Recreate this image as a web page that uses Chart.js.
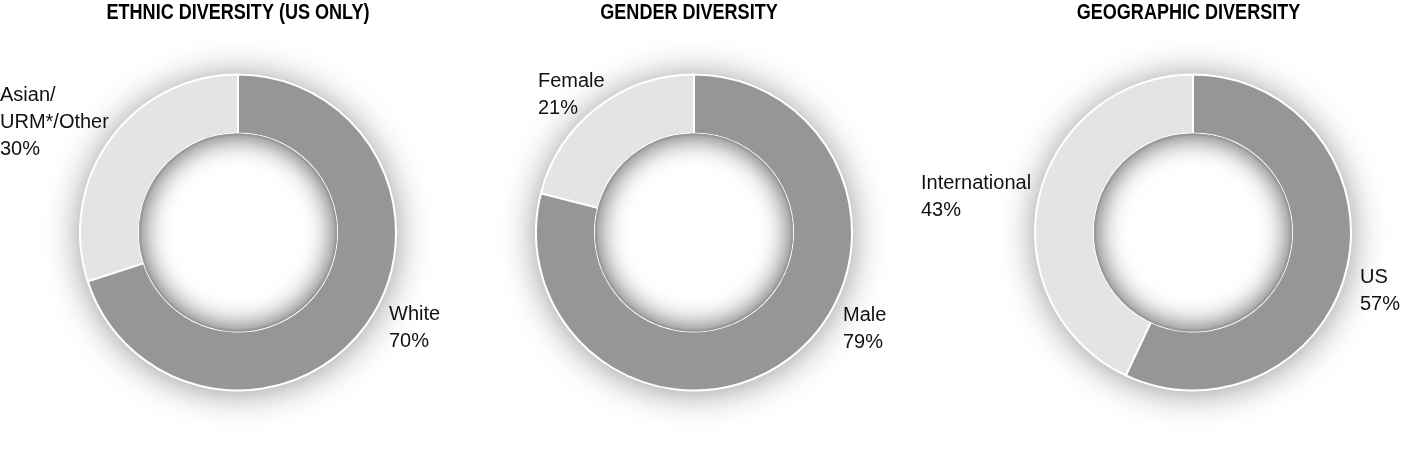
<!DOCTYPE html>
<html>
<head>
<meta charset="utf-8">
<script src="https://cdn.jsdelivr.net/npm/chart.js@4/dist/chart.umd.min.js"></script>
<style>
  html, body { margin: 0; padding: 0; background: #fff; overflow: hidden; }
  body { width: 1413px; height: 455px; position: relative; }
  canvas { position: absolute; top: 0; }
</style>
</head>
<body>
<canvas id="ethnic" width="560" height="455"></canvas>
<canvas id="gender" width="560" height="455"></canvas>
<canvas id="geo" width="560" height="455"></canvas>
<script>
const ethnicCategories = ['White', 'Asian/\nURM*/Other'];
const ethnicValues = [70, 30];
const genderCategories = ['Male', 'Female'];
const genderValues = [79, 21];
const geoCategories = ['US', 'International'];
const geoValues = [57, 43];
const chartTitles = ['ETHNIC DIVERSITY (US ONLY)', 'GENDER DIVERSITY', 'GEOGRAPHIC DIVERSITY'];

const COLORS = ['#969696', '#e4e4e4'];
const CANVAS_W = 560;

// where each doughnut sits on the page, and where its labels go (relative to the centre)
const layouts = [
    { id: 'ethnic', cx: 238, titleDx: 0, labelPos: [[151, 87.5], [-238, -131.5]] },
    { id: 'gender', cx: 694, titleDx: -5, labelPos: [[149, 88.5], [-156, -145.5]] },
    { id: 'geo', cx: 1193, titleDx: -4.5, labelPos: [[167, 50.5], [-272, -43.5]] }
];
const datasets = [
    [ethnicCategories, ethnicValues],
    [genderCategories, genderValues],
    [geoCategories, geoValues]
];

function hasFont(name) {
    const c = document.createElement('canvas').getContext('2d');
    const sample = 'GENDER DIVERSITY mmwwii';
    c.font = '20px monospace';
    const a = c.measureText(sample).width;
    c.font = `20px "${name}", monospace`;
    return c.measureText(sample).width !== a;
}
const NARROW = hasFont('Liberation Sans Narrow');

function drawText(ctx, text, x, y, font, align, squeeze) {
    ctx.save();
    ctx.font = font;
    ctx.textAlign = align;
    ctx.textBaseline = 'alphabetic';
    ctx.translate(x, y);
    ctx.scale(squeeze, 1);
    ctx.fillText(text, 0, 0);
    ctx.restore();
}

const ringShadow = {
    id: 'ringShadow',
    beforeDatasetsDraw(chart) {
        const arc = chart.getDatasetMeta(0).data[0];
        const ctx = chart.ctx;
        ctx.save();
        ctx.shadowColor = 'rgba(0,0,0,0.45)';
        ctx.shadowBlur = 36;
        ctx.shadowOffsetY = 2;
        ctx.fillStyle = '#ccc';
        ctx.beginPath();
        ctx.arc(arc.x, arc.y, arc.outerRadius - 1, 0, Math.PI * 2);
        ctx.fill();
        ctx.restore();
    },
    afterDatasetsDraw(chart) {
        const arc = chart.getDatasetMeta(0).data[0];
        const ctx = chart.ctx;
        const r = arc.innerRadius;
        ctx.save();
        ctx.beginPath();
        ctx.arc(arc.x, arc.y, r, 0, Math.PI * 2);
        ctx.clip();
        ctx.fillStyle = '#fff';
        ctx.fill();
        ctx.beginPath();
        ctx.arc(arc.x, arc.y, r + 80, 0, Math.PI * 2);
        ctx.arc(arc.x, arc.y, r - 2, 0, Math.PI * 2, true);
        ctx.shadowColor = 'rgba(0,0,0,0.65)';
        ctx.shadowBlur = 28;
        ctx.fillStyle = '#999';
        ctx.fill();
        ctx.restore();
    }
};

const labelText = {
    id: 'labelText',
    afterDraw(chart, args, opts) {
        const ctx = chart.ctx;
        const arc = chart.getDatasetMeta(0).data[0];
        const titleFont = NARROW ? 'bold 22px "Liberation Sans Narrow"' : 'bold 22px "Liberation Sans"';
        ctx.fillStyle = '#000';
        drawText(ctx, opts.title, arc.x + opts.titleDx, 19, titleFont, 'center', NARROW ? 1 : 0.82);

        ctx.fillStyle = '#111';
        const cats = chart.data.labels;
        const vals = chart.data.datasets[0].data;
        cats.forEach((cat, i) => {
            const [dx, dy] = opts.labelPos[i];
            const lines = cat.split('\n').concat([vals[i] + '%']);
            lines.forEach((line, j) => {
                drawText(ctx, line, arc.x + dx, arc.y + dy + j * 27, '20px "Liberation Sans"', 'left', 1);
            });
        });
    }
};

layouts.forEach((lay, k) => {
    const canvas = document.getElementById(lay.id);
    canvas.style.left = (lay.cx - CANVAS_W / 2) + 'px';
    const [cats, vals] = datasets[k];
    new Chart(canvas, {
        type: 'doughnut',
        data: {
            labels: cats,
            datasets: [{
                data: vals,
                backgroundColor: COLORS,
                borderColor: '#fff',
                borderWidth: 2,
                hoverOffset: 0
            }]
        },
        options: {
            responsive: false,
            animation: false,
            events: [],
            radius: 158,
            cutout: '62.7%',
            layout: { padding: { top: 10, bottom: 0, left: 0, right: 0 } },
            plugins: {
                legend: { display: false },
                tooltip: { enabled: false },
                labelText: { title: chartTitles[k], titleDx: lay.titleDx, labelPos: lay.labelPos }
            }
        },
        plugins: [ringShadow, labelText]
    });
});
</script>
</body>
</html>
